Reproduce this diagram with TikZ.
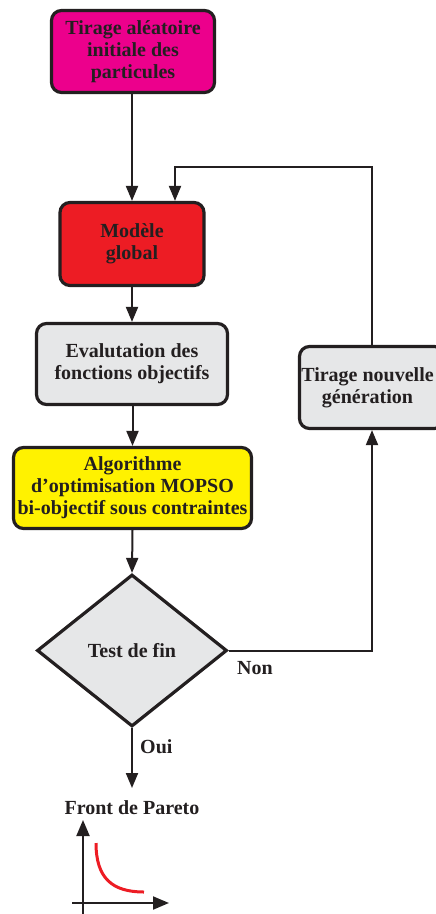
\documentclass[tikz,border=0pt]{standalone}
\usepackage{fontspec}
\setmainfont{Liberation Serif}
\usetikzlibrary{shapes.geometric,arrows.meta}
\definecolor{pinkbox}{HTML}{EC008C}
\definecolor{redbox}{HTML}{ED1C24}
\definecolor{graybox}{HTML}{E6E7E8}
\definecolor{yellowbox}{HTML}{FFF200}
\definecolor{ink}{HTML}{231F20}
\definecolor{curvered}{HTML}{ED1C24}
\tikzset{
  stepbox/.style={draw=ink, line width=3.2pt, rounded corners=10pt, inner sep=0pt,
    align=center, text=ink, font=\bfseries\fontsize{20}{22}\selectfont},
  testbox/.style={draw=ink, line width=3.2pt, shape=diamond, inner sep=0pt, aspect=1.245,
    minimum width=190pt, minimum height=152pt, fill=graybox,
    align=center, text=ink, font=\bfseries\fontsize{20}{22}\selectfont},
  lbl/.style={text=ink, font=\bfseries\fontsize{20}{22}\selectfont, inner sep=0pt},
  conn/.style={draw=ink, line width=2pt, -{Triangle[length=15pt,width=12pt]}},
  plain/.style={draw=ink, line width=2pt},
}
\begin{document}
\begin{tikzpicture}[x=1pt,y=-1pt]
\useasboundingbox (0,0) rectangle (436,914);
\clip (0,0) rectangle (436,914);
\node[stepbox, fill=pinkbox, minimum width=163pt, minimum height=82pt] (init) at (133,51.5)
  {Tirage aléatoire\\initiale des\\particules};
\node[stepbox, fill=redbox, minimum width=144pt, minimum height=83pt] (model) at (132,244)
  {Modèle\\global};
\node[stepbox, fill=graybox, minimum width=191pt, minimum height=81pt] (eval) at (132,364)
  {Evalutation des\\fonctions objectifs};
\node[stepbox, fill=graybox, minimum width=145pt, minimum height=82pt] (newgen) at (372,387.5)
  {Tirage nouvelle\hspace*{9pt}\\génération\hspace*{9pt}};
\node[stepbox, fill=yellowbox, minimum width=238pt, minimum height=81pt] (mopso) at (132.5,488)
  {Algorithme\\d’optimisation MOPSO\\bi-objectif sous contraintes};
\node[testbox] (test) at (132,650.5) {Test de fin};
\node[lbl] (front) at (132,808) {Front de Pareto};
\coordinate (frontin) at (132,788);
\coordinate (fb) at (175,167);

\draw[conn] (init.south -| model.north) -- (model.north);
\draw[conn] (model.south) -- (eval.north);
\draw[conn] (eval.south) -- (mopso.south |- eval.south) -- (mopso.north);
\draw[conn] (mopso.south) -- (test.north);
\draw[conn] (test.east) -| (newgen.south);
\draw[conn] (newgen.north) |- (fb) -- (fb |- model.north);
\draw[conn] (test.south) -- (frontin);
\node[lbl, anchor=west] (non) at (237,668) {Non};
\node[lbl, anchor=west] (oui) at (140,747) {Oui};

% Pareto front sketch
\coordinate (yaxb) at (83,916);
\coordinate (yaxt) at (83,820);
\coordinate (xaxl) at (72,903);
\coordinate (xaxr) at (169,903);
\draw[ink, line width=2pt, -{Triangle[length=16pt,width=13pt]}] (yaxb) -- (yaxt);
\draw[ink, line width=2pt, -{Triangle[length=16pt,width=13pt]}] (xaxl) -- (xaxr);
\coordinate (pa) at (96,843);
\coordinate (pb) at (144,892);
\draw[curvered, line width=3pt] (pa) .. controls (96,878) and (112,892) .. (pb);
\end{tikzpicture}
\end{document}
